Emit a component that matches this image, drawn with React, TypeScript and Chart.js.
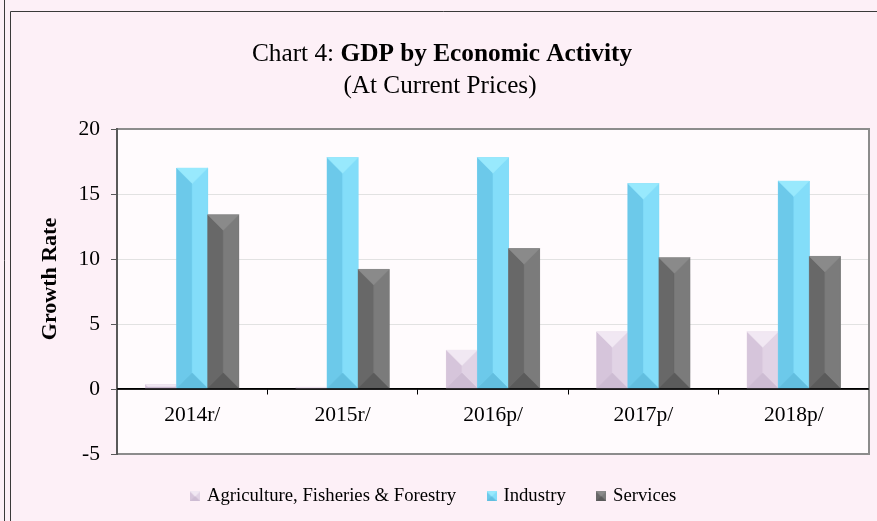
import React, { useEffect, useRef } from 'react';
import { Chart, registerables } from 'chart.js';

Chart.register(...registerables);

const categories = ['2014r/', '2015r/', '2016p/', '2017p/', '2018p/'];
const seriesNames = ['Agriculture, Fisheries & Forestry', 'Industry', 'Services'];
const agriculture = [0.35, 0.15, 3.0, 4.4, 4.4];
const industry = [17.0, 17.8, 17.8, 15.8, 16.0];
const services = [13.4, 9.2, 10.8, 10.1, 10.2];
const yMin = -5;
const yMax = 20;
const yStep = 5;

const FONT = "'Times New Roman', 'Liberation Serif', serif";

type Pal = { base: string; top: string; left: string; right: string; bottom: string };
const palettes: Pal[] = [
  { base: '#dccbe0', top: '#f1e8f3', left: '#d6c5db', right: '#e1d3e5', bottom: '#cdbcd3' },
  { base: '#78d4f3', top: '#98e9fd', left: '#6cc9ea', right: '#83ddf9', bottom: '#62bedf' },
  { base: '#707070', top: '#8a8a8a', left: '#686868', right: '#7b7b7b', bottom: '#5b5b5b' },
];

function poly(ctx: CanvasRenderingContext2D, pts: number[][], color: string) {
  ctx.beginPath();
  ctx.moveTo(pts[0][0], pts[0][1]);
  for (let i = 1; i < pts.length; i++) ctx.lineTo(pts[i][0], pts[i][1]);
  ctx.closePath();
  ctx.fillStyle = color;
  ctx.fill();
  ctx.strokeStyle = color;
  ctx.lineWidth = 0.5;
  ctx.stroke();
}

function drawBevel(ctx: CanvasRenderingContext2D, L: number, T: number, R: number, B: number, pal: Pal) {
  const w = R - L;
  const h = B - T;
  if (w <= 0 || h <= 0) return;
  const d = Math.min(w / 2, h / 2);
  ctx.save();
  ctx.fillStyle = pal.base;
  ctx.fillRect(L, T, w, h);
  poly(ctx, [[L, T], [L + d, T + d], [L + d, B - d], [L, B]], pal.left);
  poly(ctx, [[R, T], [R - d, T + d], [R - d, B - d], [R, B]], pal.right);
  poly(ctx, [[L, B], [R, B], [R - d, B - d], [L + d, B - d]], pal.bottom);
  poly(ctx, [[L, T], [R, T], [R - d, T + d], [L + d, T + d]], pal.top);
  ctx.restore();
}

function makeIcon(pal: Pal): HTMLCanvasElement {
  const c = document.createElement('canvas');
  c.width = 10;
  c.height = 10;
  const ctx = c.getContext('2d')!;
  drawBevel(ctx, 0, 0, 10, 10, pal);
  return c;
}

const backgroundPlugin = {
  id: 'bgFrame',
  beforeDraw(chart: any) {
    const { ctx, width, height, chartArea } = chart;
    ctx.save();
    ctx.fillStyle = '#fdf0f7';
    ctx.fillRect(0, 0, width, height);
    ctx.strokeStyle = '#3a3a3a';
    ctx.lineWidth = 1;
    ctx.beginPath();
    ctx.moveTo(4.5, 0);
    ctx.lineTo(4.5, height);
    ctx.moveTo(10.5, height);
    ctx.lineTo(10.5, 11.5);
    ctx.lineTo(width, 11.5);
    ctx.stroke();
    ctx.fillStyle = '#fffbfd';
    ctx.fillRect(chartArea.left, chartArea.top, chartArea.right - chartArea.left, chartArea.bottom - chartArea.top);
    ctx.restore();
  },
  beforeDatasetsDraw(chart: any) {
    const { ctx, chartArea } = chart;
    ctx.save();
    ctx.strokeStyle = '#8c8c8c';
    ctx.lineWidth = 2;
    ctx.beginPath();
    ctx.moveTo(chartArea.left, chartArea.top);
    ctx.lineTo(chartArea.right, chartArea.top);
    ctx.lineTo(chartArea.right, chartArea.bottom);
    ctx.lineTo(chartArea.left, chartArea.bottom);
    ctx.stroke();
    ctx.strokeStyle = '#595959';
    ctx.beginPath();
    ctx.moveTo(chartArea.left, chartArea.top - 1);
    ctx.lineTo(chartArea.left, chartArea.bottom + 1);
    ctx.stroke();
    ctx.restore();
  },
  afterDatasetsDraw(chart: any) {
    const ctx = chart.ctx;
    chart.data.datasets.forEach((_ds: any, di: number) => {
      const meta = chart.getDatasetMeta(di);
      meta.data.forEach((el: any) => {
        const p = el.getProps(['x', 'y', 'base', 'width'], true);
        const L = p.x - p.width / 2;
        const R = p.x + p.width / 2;
        const T = Math.min(p.y, p.base);
        const B = Math.max(p.y, p.base);
        drawBevel(ctx, L, T, R, B, palettes[di]);
      });
    });
    const y0 = chart.scales.y.getPixelForValue(0);
    ctx.save();
    ctx.strokeStyle = '#000';
    ctx.lineWidth = 1.5;
    ctx.beginPath();
    ctx.moveTo(chart.chartArea.left, y0);
    ctx.lineTo(chart.chartArea.right, y0);
    ctx.stroke();
    ctx.restore();
  },
  afterDraw(chart: any) {
    const { ctx } = chart;
    ctx.save();
    ctx.fillStyle = '#000';
    ctx.textBaseline = 'alphabetic';
    const part1 = 'Chart 4: ';
    const part2 = 'GDP by Economic Activity';
    ctx.font = `25.3px ${FONT}`;
    const w1 = ctx.measureText(part1).width;
    ctx.font = `bold 25.3px ${FONT}`;
    const w2 = ctx.measureText(part2).width;
    const startX = 442 - (w1 + w2) / 2;
    ctx.textAlign = 'left';
    ctx.font = `25.3px ${FONT}`;
    ctx.fillText(part1, startX, 61);
    ctx.font = `bold 25.3px ${FONT}`;
    ctx.fillText(part2, startX + w1, 61);
    ctx.font = `25.2px ${FONT}`;
    ctx.textAlign = 'center';
    ctx.fillText('(At Current Prices)', 440, 93);
    ctx.translate(50, 279);
    ctx.rotate(-Math.PI / 2);
    ctx.font = `bold 22px ${FONT}`;
    ctx.textAlign = 'center';
    ctx.textBaseline = 'middle';
    ctx.fillText('Growth Rate', 0, 0);
    ctx.restore();
  },
};

export default function App() {
  const canvasRef = useRef<HTMLCanvasElement | null>(null);

  useEffect(() => {
    document.body.style.margin = '0';
    const canvas = canvasRef.current;
    if (!canvas) return;
    const icons = palettes.map(makeIcon);
    const seriesData = [agriculture, industry, services];

    const chart = new Chart(canvas, {
      type: 'bar',
      data: {
        labels: categories,
        datasets: seriesNames.map((name, i) => ({
          label: name,
          data: seriesData[i],
          backgroundColor: palettes[i].base,
          borderWidth: 0,
          categoryPercentage: 0.62,
          barPercentage: 1.0,
        })),
      },
      options: {
        responsive: false,
        animation: false,
        events: [],
        layout: { padding: { top: 129, right: 8, bottom: 5.3, left: 0 } },
        scales: {
          x: {
            position: { y: 0 } as any,
            offset: true,
            grid: {
              drawOnChartArea: false,
              offset: true,
              color: '#000',
              tickLength: 5,
              lineWidth: 1,
            },
            border: { display: true, color: '#000', width: 1.5 },
            ticks: { color: '#000', font: { family: FONT, size: 21.5 }, padding: 8 },
          },
          y: {
            min: yMin,
            max: yMax,
            afterFit: (scale: any) => {
              scale.width = 117;
            },
            ticks: {
              stepSize: yStep,
              color: '#000',
              font: { family: FONT, size: 21.5 },
              padding: 11,
            },
            grid: {
              color: (c: any) => (c.tick && (c.tick.value === 0 || c.tick.value === yMin || c.tick.value === yMax) ? 'rgba(0,0,0,0)' : '#e2e2e2'),
              tickColor: '#595959',
              tickLength: 6,
              lineWidth: 1,
            },
            border: { display: true, color: '#595959', width: 2 },
          },
        },
        plugins: {
          title: { display: false },
          tooltip: { enabled: false },
          legend: {
            display: true,
            position: 'bottom',
            labels: {
              usePointStyle: true,
              pointStyleWidth: 5,
              padding: 33,
              color: '#000',
              font: { family: FONT, size: 18.7 },
              generateLabels: () =>
                seriesNames.map((name, i) => ({
                  text: name,
                  pointStyle: icons[i] as any,
                  fillStyle: palettes[i].base,
                  strokeStyle: 'rgba(0,0,0,0)',
                  lineWidth: 0,
                  hidden: false,
                  datasetIndex: i,
                  fontColor: '#000',
                })),
            },
          },
        },
      },
      plugins: [backgroundPlugin],
    } as any);

    return () => {
      chart.destroy();
    };
  }, []);

  return (
    <div style={{ width: 877, height: 521 }}>
      <canvas ref={canvasRef} width={877} height={521} style={{ display: 'block', width: 877, height: 521 }} />
    </div>
  );
}
